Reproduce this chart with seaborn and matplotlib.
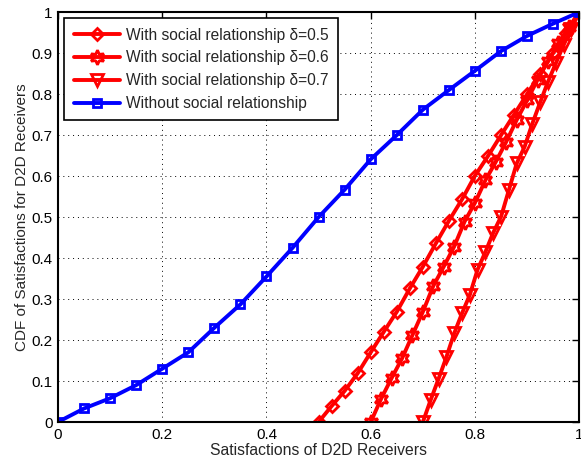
import matplotlib
matplotlib.use("Agg")
import matplotlib.pyplot as plt
import seaborn as sns
import numpy as np

# Data
x_without = [0, 0.05, 0.1, 0.15, 0.2, 0.25, 0.3, 0.35, 0.4, 0.45, 0.5,
             0.55, 0.6, 0.65, 0.7, 0.75, 0.8, 0.85, 0.9, 0.95, 1.0]
y_without = [0, 0.033, 0.058, 0.09, 0.13, 0.17, 0.23, 0.287, 0.355, 0.425, 0.5,
             0.567, 0.641, 0.70, 0.762, 0.81, 0.857, 0.905, 0.942, 0.972, 1.0]

x_d05 = [0.5, 0.525, 0.55, 0.575, 0.6, 0.625, 0.65, 0.675, 0.7, 0.725, 0.75,
         0.775, 0.8, 0.825, 0.85, 0.875, 0.9, 0.925, 0.95, 0.975, 1.0]
y_d05 = [0, 0.039, 0.076, 0.119, 0.17, 0.22, 0.269, 0.326, 0.379, 0.436, 0.491,
         0.543, 0.601, 0.649, 0.70, 0.75, 0.80, 0.85, 0.90, 0.95, 1.0]

x_d06 = [0.6, 0.62, 0.64, 0.66, 0.68, 0.7, 0.72, 0.74, 0.76, 0.78, 0.8,
         0.82, 0.84, 0.86, 0.88, 0.9, 0.92, 0.94, 0.96, 0.98, 1.0]
y_d06 = [0, 0.057, 0.107, 0.155, 0.212, 0.269, 0.332, 0.379, 0.428, 0.489, 0.535,
         0.59, 0.635, 0.684, 0.737, 0.785, 0.835, 0.88, 0.925, 0.963, 1.0]

x_d07 = [0.7, 0.715, 0.73, 0.745, 0.76, 0.775, 0.79, 0.805, 0.82, 0.835, 0.85,
         0.865, 0.88, 0.895, 0.91, 0.925, 0.94, 0.955, 0.97, 0.985, 1.0]
y_d07 = [0, 0.054, 0.105, 0.158, 0.216, 0.265, 0.31, 0.372, 0.415, 0.462, 0.501,
         0.566, 0.631, 0.671, 0.728, 0.78, 0.83, 0.875, 0.92, 0.96, 1.0]

labels = ["With social relationship \u03b4=0.5",
          "With social relationship \u03b4=0.6",
          "With social relationship \u03b4=0.7",
          "Without social relationship"]

sns.set_style("white")
plt.rcParams["font.family"] = ["Liberation Sans", "DejaVu Sans"]
plt.rcParams["font.size"] = 10

fig = plt.figure(figsize=(5.81, 4.66), dpi=100)
ax = fig.add_axes([0.0998, 0.0944, 0.8972, 0.8796])

series = [
    (x_d05, y_d05, "red", "D", 6.5),
    (x_d06, y_d06, "red", (6, 1, 0), 10.5),
    (x_d07, y_d07, "red", "v", 8.5),
    (x_without, y_without, "blue", "s", 6),
]
for (xs, ys, color, marker, ms), label in zip(series, labels):
    sns.lineplot(x=xs, y=ys, ax=ax, color=color, marker=marker,
                 markersize=ms, markerfacecolor="none", markeredgecolor=color,
                 markeredgewidth=2.0, linewidth=2.8, label=label, sort=False)

ax.set_xlim(0, 1)
ax.set_ylim(0, 1)
ax.set_xticks(np.arange(0, 1.01, 0.2))
ax.set_xticklabels(["0", "0.2", "0.4", "0.6", "0.8", "1"])
ax.set_yticks(np.arange(0, 1.01, 0.1))
ax.set_yticklabels(["0", "0.1", "0.2", "0.3", "0.4", "0.5",
                    "0.6", "0.7", "0.8", "0.9", "1"])
ax.tick_params(direction="in", length=5, width=1, top=True, right=True,
               labelsize=11, colors="black", pad=4)
ax.grid(True, color="black", linestyle=(0, (1, 4)), linewidth=0.7)
for sp in ax.spines.values():
    sp.set_linewidth(1.5)
    sp.set_color("black")

ax.set_xlabel("Satisfactions of D2D Receivers", fontsize=11.3, labelpad=1)
ax.set_ylabel("CDF of Satisfactions for D2D Receivers", fontsize=11, labelpad=2)

leg = ax.legend(loc="upper left", fontsize=11.2, frameon=True, fancybox=False,
                borderaxespad=0.4, handlelength=3.0, labelspacing=0.5,
                borderpad=0.6, handletextpad=0.4)
leg.get_frame().set_edgecolor("black")
leg.get_frame().set_linewidth(1.2)
leg.get_frame().set_alpha(1)

fig.savefig("out.png", dpi=100)
